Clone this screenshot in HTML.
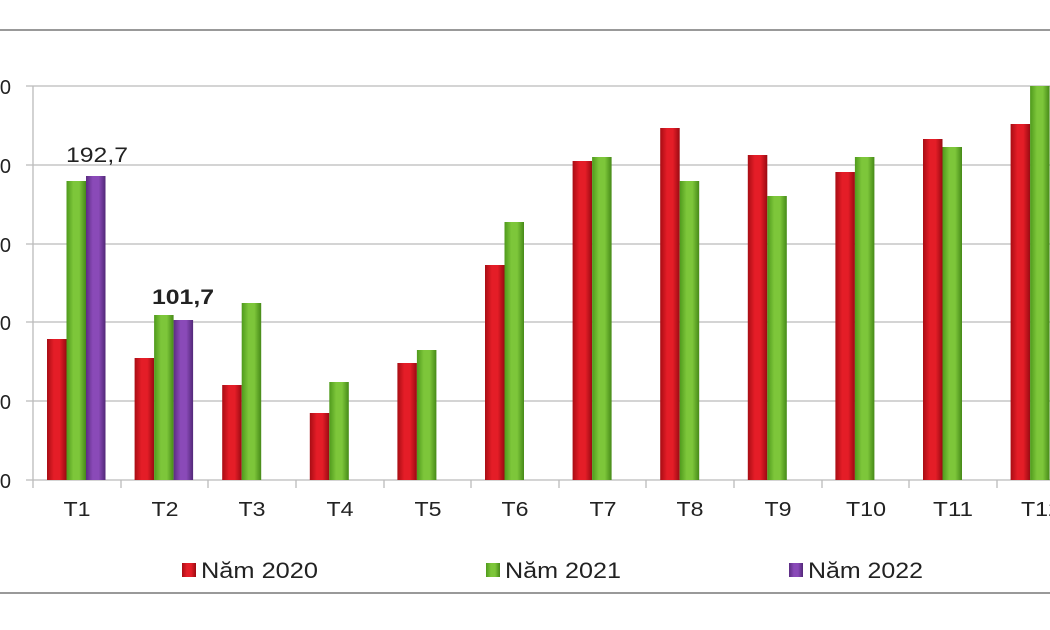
<!DOCTYPE html>
<html><head><meta charset="utf-8"><style>
html,body{margin:0;padding:0;background:#fff;}
svg{display:block;font-family:"Liberation Sans",Arial,sans-serif;}
</style></head><body>
<svg width="1050" height="630" viewBox="0 0 1050 630" xmlns="http://www.w3.org/2000/svg">
<defs>
<linearGradient id="r" x1="0" x2="1" y1="0" y2="0"><stop offset="0" stop-color="#a80d14"/><stop offset="0.35" stop-color="#e41d27"/><stop offset="0.65" stop-color="#e41d27"/><stop offset="1" stop-color="#9a0a12"/></linearGradient>
<linearGradient id="g" x1="0" x2="1" y1="0" y2="0"><stop offset="0" stop-color="#4f9a1c"/><stop offset="0.35" stop-color="#7dc63a"/><stop offset="0.65" stop-color="#7dc63a"/><stop offset="1" stop-color="#468a18"/></linearGradient>
<linearGradient id="p" x1="0" x2="1" y1="0" y2="0"><stop offset="0" stop-color="#5b2d82"/><stop offset="0.35" stop-color="#8a4ab8"/><stop offset="0.65" stop-color="#8a4ab8"/><stop offset="1" stop-color="#522878"/></linearGradient>
</defs>
<line x1="0" y1="30" x2="1050" y2="30" stroke="#999" stroke-width="2"/>
<line x1="0" y1="593" x2="1050" y2="593" stroke="#999" stroke-width="2"/>
<g stroke="#bbb" stroke-width="1.3">
<line x1="26" y1="86" x2="1050" y2="86"/><line x1="26" y1="165" x2="1050" y2="165"/>
<line x1="26" y1="244" x2="1050" y2="244"/><line x1="26" y1="322" x2="1050" y2="322"/>
<line x1="26" y1="401" x2="1050" y2="401"/><line x1="26" y1="480" x2="1050" y2="480"/>
<line x1="33" y1="86" x2="33" y2="488"/>
<line x1="121" y1="480" x2="121" y2="488"/><line x1="208" y1="480" x2="208" y2="488"/>
<line x1="296" y1="480" x2="296" y2="488"/><line x1="384" y1="480" x2="384" y2="488"/>
<line x1="471" y1="480" x2="471" y2="488"/><line x1="559" y1="480" x2="559" y2="488"/>
<line x1="646" y1="480" x2="646" y2="488"/><line x1="734" y1="480" x2="734" y2="488"/>
<line x1="822" y1="480" x2="822" y2="488"/><line x1="909" y1="480" x2="909" y2="488"/>
<line x1="997" y1="480" x2="997" y2="488"/>
</g>
<g font-size="20" fill="#222" text-anchor="end">
<text x="11" y="94">250</text><text x="11" y="173">200</text><text x="11" y="252">150</text>
<text x="11" y="330">100</text><text x="11" y="409">50</text><text x="11" y="488">0</text>
</g>
<g>
<rect x="47" y="339" width="19.5" height="141" fill="url(#r)"/><rect x="66.5" y="181" width="19.5" height="299" fill="url(#g)"/><rect x="86" y="176" width="19.5" height="304" fill="url(#p)"/>
<rect x="134.6" y="358" width="19.5" height="122" fill="url(#r)"/><rect x="154.1" y="315" width="19.5" height="165" fill="url(#g)"/><rect x="173.6" y="320" width="19.5" height="160" fill="url(#p)"/>
<rect x="222.2" y="385" width="19.5" height="95" fill="url(#r)"/><rect x="241.7" y="303" width="19.5" height="177" fill="url(#g)"/>
<rect x="309.8" y="413" width="19.5" height="67" fill="url(#r)"/><rect x="329.3" y="382" width="19.5" height="98" fill="url(#g)"/>
<rect x="397.4" y="363" width="19.5" height="117" fill="url(#r)"/><rect x="416.9" y="350" width="19.5" height="130" fill="url(#g)"/>
<rect x="485" y="265" width="19.5" height="215" fill="url(#r)"/><rect x="504.5" y="222" width="19.5" height="258" fill="url(#g)"/>
<rect x="572.6" y="161" width="19.5" height="319" fill="url(#r)"/><rect x="592.1" y="157" width="19.5" height="323" fill="url(#g)"/>
<rect x="660.2" y="128" width="19.5" height="352" fill="url(#r)"/><rect x="679.7" y="181" width="19.5" height="299" fill="url(#g)"/>
<rect x="747.8" y="155" width="19.5" height="325" fill="url(#r)"/><rect x="767.3" y="196" width="19.5" height="284" fill="url(#g)"/>
<rect x="835.4" y="172" width="19.5" height="308" fill="url(#r)"/><rect x="854.9" y="157" width="19.5" height="323" fill="url(#g)"/>
<rect x="923" y="139" width="19.5" height="341" fill="url(#r)"/><rect x="942.5" y="147" width="19.5" height="333" fill="url(#g)"/>
<rect x="1010.6" y="124" width="19.5" height="356" fill="url(#r)"/><rect x="1030.1" y="86" width="19.5" height="394" fill="url(#g)"/>
</g>
<text x="66" y="162" font-size="21" fill="#222" textLength="62" lengthAdjust="spacingAndGlyphs">192,7</text>
<text x="152" y="304" font-size="21" font-weight="bold" fill="#222" textLength="62" lengthAdjust="spacingAndGlyphs">101,7</text>
<g font-size="20" fill="#222" text-anchor="middle">
<text x="77" y="516" textLength="27" lengthAdjust="spacingAndGlyphs">T1</text><text x="165" y="516" textLength="27" lengthAdjust="spacingAndGlyphs">T2</text><text x="252" y="516" textLength="27" lengthAdjust="spacingAndGlyphs">T3</text>
<text x="340" y="516" textLength="27" lengthAdjust="spacingAndGlyphs">T4</text><text x="428" y="516" textLength="27" lengthAdjust="spacingAndGlyphs">T5</text><text x="515" y="516" textLength="27" lengthAdjust="spacingAndGlyphs">T6</text>
<text x="603" y="516" textLength="27" lengthAdjust="spacingAndGlyphs">T7</text><text x="690" y="516" textLength="27" lengthAdjust="spacingAndGlyphs">T8</text><text x="778" y="516" textLength="27" lengthAdjust="spacingAndGlyphs">T9</text>
<text x="866" y="516" textLength="40" lengthAdjust="spacingAndGlyphs">T10</text><text x="953" y="516" textLength="40" lengthAdjust="spacingAndGlyphs">T11</text><text x="1041" y="516" textLength="40" lengthAdjust="spacingAndGlyphs">T12</text>
</g>
<rect x="182" y="563" width="14" height="14" fill="url(#r)"/>
<text x="201" y="578" font-size="22" fill="#222" textLength="117" lengthAdjust="spacingAndGlyphs">Năm 2020</text>
<rect x="486" y="563" width="14" height="14" fill="url(#g)"/>
<text x="505" y="578" font-size="22" fill="#222" textLength="116" lengthAdjust="spacingAndGlyphs">Năm 2021</text>
<rect x="789" y="563" width="14" height="14" fill="url(#p)"/>
<text x="808" y="578" font-size="22" fill="#222" textLength="115" lengthAdjust="spacingAndGlyphs">Năm 2022</text>
</svg>
</body></html>
